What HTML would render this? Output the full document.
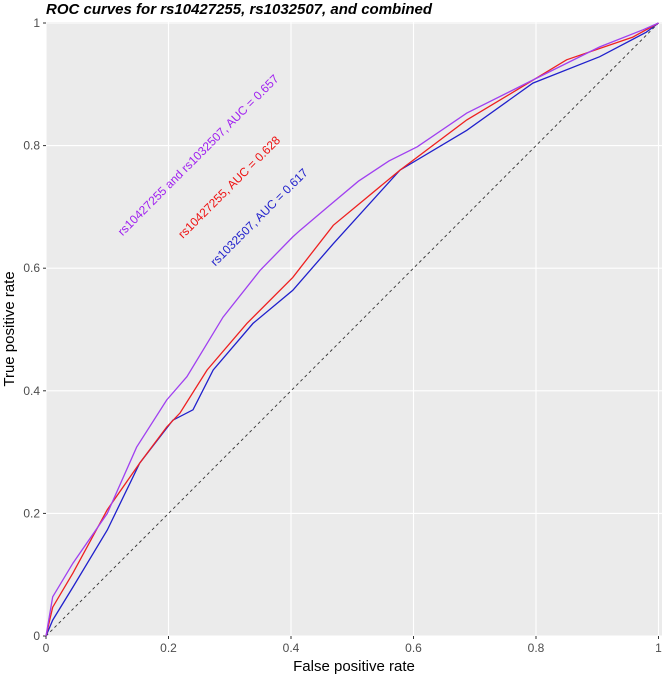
<!DOCTYPE html>
<html><head><meta charset="utf-8"><style>
body{margin:0;background:#fff;}
svg text{font-family:"Liberation Sans",Arial,sans-serif;}
</style></head><body>
<svg id="chart" width="662" height="677" viewBox="0 0 662 677">
<text x="46" y="14" font-size="15" font-weight="bold" font-style="italic" fill="#000">ROC curves for rs10427255, rs1032507, and combined</text>
<rect x="46" y="22" width="616" height="614" fill="#ebebeb"/>
<g id="grid"></g>
<g id="axes"></g>
<g id="series"></g>
<text x="201" y="158" font-size="12" fill="#a020f0" text-anchor="middle" transform="rotate(-45 201 158)">rs10427255 and rs1032507, AUC = 0.657</text>
<text x="232" y="190" font-size="12" fill="#ee1111" text-anchor="middle" transform="rotate(-45 232 190)">rs10427255, AUC = 0.628</text>
<text x="262" y="220" font-size="12" fill="#2222cc" text-anchor="middle" transform="rotate(-45 262 220)">rs1032507, AUC = 0.617</text>
<text x="354" y="671" font-size="15" text-anchor="middle" fill="#000">False positive rate</text>
<text x="14" y="329" font-size="15" text-anchor="middle" fill="#000" transform="rotate(-90 14 329)">True positive rate</text>
</svg>
<script>
const ticks=[0,0.2,0.4,0.6,0.8,1];
const tickLabels=["0","0.2","0.4","0.6","0.8","1"];
const purpleFpr=[0,0.011,0.044,0.1,0.148,0.197,0.23,0.289,0.35,0.403,0.415,0.46,0.51,0.56,0.606,0.687,0.795,0.904,0.975,1];
const purpleTpr=[0,0.064,0.119,0.2,0.308,0.385,0.423,0.52,0.597,0.651,0.662,0.7,0.742,0.775,0.798,0.853,0.907,0.961,0.989,1];
const redFpr=[0,0.011,0.044,0.1,0.153,0.197,0.219,0.263,0.328,0.403,0.469,0.578,0.687,0.769,0.85,0.958,1];
const redTpr=[0,0.047,0.103,0.206,0.282,0.341,0.364,0.434,0.51,0.585,0.67,0.76,0.842,0.891,0.94,0.977,1];
const blueFpr=[0,0.011,0.044,0.1,0.153,0.207,0.24,0.273,0.338,0.403,0.469,0.578,0.687,0.795,0.904,0.98,1];
const blueTpr=[0,0.026,0.08,0.173,0.282,0.352,0.369,0.434,0.51,0.564,0.64,0.76,0.825,0.902,0.945,0.985,1];
const NS="http://www.w3.org/2000/svg";
const X=v=>46+612.5*v, Y=v=>636-613*v;
function mk(tag,attrs,parent){const e=document.createElementNS(NS,tag);for(const k in attrs)e.setAttribute(k,attrs[k]);parent.appendChild(e);return e;}
const grid=document.getElementById('grid'),axes=document.getElementById('axes'),series=document.getElementById('series');
ticks.forEach((t,i)=>{
  const gx=mk('line',{x1:X(t),x2:X(t),y1:22,y2:636,stroke:'#fff','stroke-width':1.1},grid);
  
  
  const gy=mk('line',{x1:46,x2:662,y1:Y(t),y2:Y(t),stroke:'#fff','stroke-width':1.1},grid);
  
  
  const tx=mk('text',{x:X(t),y:652,'font-size':12,'text-anchor':'middle',fill:'#4d4d4d'},axes);
  tx.textContent=tickLabels[i];
  
  
  mk('line',{x1:X(t),x2:X(t),y1:636,y2:639,stroke:'#333'},axes);
  const ty=mk('text',{x:40,y:Y(t)+4,'font-size':12,'text-anchor':'end',fill:'#4d4d4d'},axes);
  ty.textContent=tickLabels[i];
  
  
  mk('line',{x1:43,x2:46,y1:Y(t),y2:Y(t),stroke:'#333'},axes);
});
const diag=mk('line',{x1:X(0),y1:Y(0),x2:X(1),y2:Y(1),stroke:'#333','stroke-width':0.9,'stroke-dasharray':'3,3'},series);


function curve(fx,ty,color,name){
  let d='';fx.forEach((f,i)=>{d+=(i?'L':'M')+X(f).toFixed(1)+','+Y(ty[i]).toFixed(1);});
  const p=mk('path',{d:d,fill:'none',stroke:color,'stroke-width':1.3},series);
  
  
}
curve(blueFpr,blueTpr,'#2020cc','roc-rs1032507');
curve(redFpr,redTpr,'#ee2020','roc-rs10427255');
curve(purpleFpr,purpleTpr,'#a040f0','roc-combined');
</script>
</body></html>
